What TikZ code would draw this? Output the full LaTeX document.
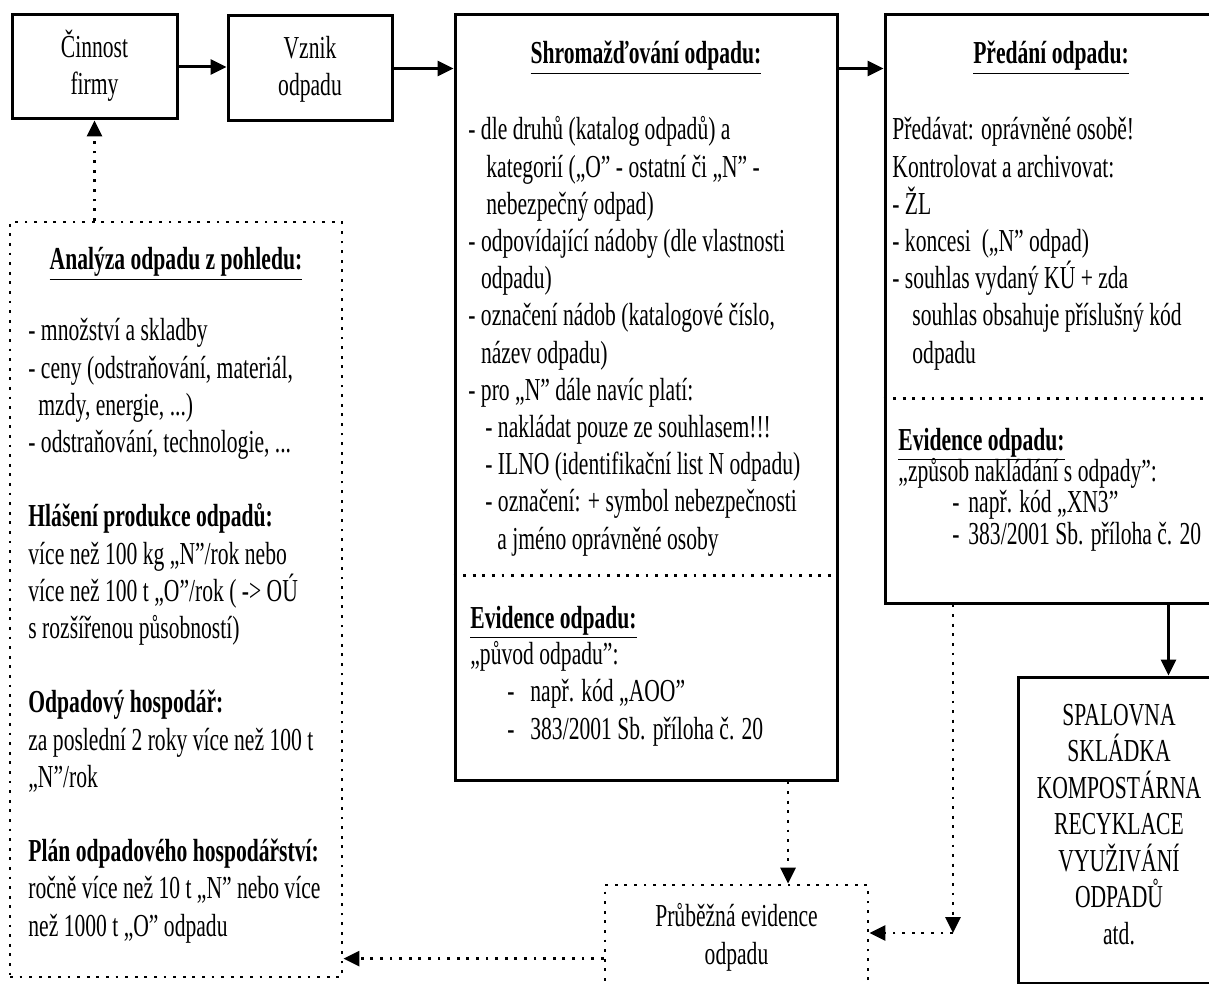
\documentclass[tikz,border=0pt]{standalone}
\usepackage{fontspec}
\setmainfont[FakeStretch=0.675]{Liberation Serif}
\usetikzlibrary{arrows.meta, positioning, fit, calc}

\begin{document}
\begin{tikzpicture}[
        x=0.5pt, y=-0.5pt,
        every node/.style={font=\fontsize{16pt}{18.6pt}\selectfont},
        krabice/.style={rectangle, draw=black, line width=1.5pt, inner sep=0pt},
        tecky/.style={line width=1.4pt, dash pattern=on 1.4pt off 3.4pt},
        teckovana/.style={rectangle, draw=black, tecky, inner sep=0pt},
        popis/.style={inner sep=0pt, align=left, anchor=base west},
        stred/.style={inner sep=0pt, align=center, anchor=base},
        nadpis/.style={inner sep=0pt, anchor=base, font=\fontsize{16pt}{18.6pt}\selectfont\bfseries},
        arr/.style={-{Triangle[length=8pt, width=7.5pt]}, line width=1.5pt},
        darr/.style={tecky, -{Triangle[length=8pt, width=7.5pt]}}
    ]
    \useasboundingbox (0,0) rectangle (1209,984);
    \clip (0,0) rectangle (1209,984);

% --- Horni rada (kotva textu = uclati radek) ---
    \node[krabice, fit={(12,15) (177,119)}] (cinnost) {};
    \node[stred] (cinnost_text) at (94.5,95) {Činnost\\firmy};
    \node[krabice, fit={(228,16) (392,121)}] (vznik) {};
    \node[stred] (vznik_text) at (310,96) {Vznik\\odpadu};
    \node[krabice, fit={(455,15) (837,780)}] (shrom) {};
    \node[krabice, fit={(885,15) (1218,603)}] (predani) {};

% --- Shromazdovani ---
    \node[nadpis] (shrom_nadpis) at (646,64) {\underline{Shromažďování odpadu:}};
    \node[popis] (shrom_text) at (468,549)
        {- dle druhů (katalog odpadů) a\\
        \hspace*{9pt}kategorií („O” - ostatní či „N” -\\
        \hspace*{9pt}nebezpečný odpad)\\
        - odpovídající nádoby (dle vlastnosti\\
        \hspace*{6.3pt}odpadu)\\
        - označení nádob (katalogové číslo,\\
        \hspace*{6.3pt}název odpadu)\\
        - pro „N” dále navíc platí:\\
        \hspace*{8.5pt}- nakládat pouze ze souhlasem!!!\\
        \hspace*{8.5pt}- ILNO (identifikační list N odpadu)\\
        \hspace*{8.5pt}- označení: + symbol nebezpečnosti\\
        \hspace*{14.5pt}a jméno oprávněné osoby};
    \draw[tecky] ($(shrom.north west)!0.732!(shrom.south west)$) -- ($(shrom.north east)!0.732!(shrom.south east)$);
    \node[popis, font=\fontsize{16pt}{18.6pt}\selectfont\bfseries] (shrom_evid) at (470,628) {\underline{Evidence odpadu:}};
    \node[popis] (shrom_evid_text) at (470,739)
        {„původ odpadu”:\\
        \makebox[30pt][l]{\hspace*{18.5pt}-}např. kód „AOO”\\
        \makebox[30pt][l]{\hspace*{18.5pt}-}383/2001 Sb. příloha č. 20};

% --- Predani ---
    \node[nadpis] (predani_nadpis) at (1051,64) {\underline{Předání odpadu:}};
    \node[popis] (predani_text) at (892,363)
        {Předávat: oprávněné osobě!\\
        Kontrolovat a archivovat:\\
        - ŽL\\
        - koncesi\ \ („N” odpad)\\
        - souhlas vydaný KÚ + zda\\
        \hspace*{10pt}souhlas obsahuje příslušný kód\\
        \hspace*{10pt}odpadu};
    \draw[tecky] ($(predani.north west)!0.651!(predani.south west)$) -- ($(predani.north east)!0.651!(predani.south east)$);
    \node[popis, font=\fontsize{16pt}{18.6pt}\selectfont\bfseries] (predani_evid) at (898,450) {\underline{Evidence odpadu:}};
    \node[popis, font=\fontsize{16pt}{14.5pt}\selectfont] (predani_evid_text) at (898,544)
        {„způsob nakládání s odpady”:\\
        \makebox[35pt][l]{\hspace*{27pt}-}např. kód „XN3"\\
        \makebox[35pt][l]{\hspace*{27pt}-}383/2001 Sb. příloha č. 20};

% --- Analyza ---
    \node[teckovana, fit={(10,222) (342,977)}] (analyza) {};
    \node[nadpis] (analyza_nadpis) at (176,270) {\underline{Analýza odpadu z pohledu:}};
    \node[popis] (analyza_text) at (28,936)
        {- množství a skladby\\
        - ceny (odstraňování, materiál,\\
        \hspace*{5pt}mzdy, energie, ...)\\
        - odstraňování, technologie, ...\\[18.6pt]
        \textbf{Hlášení produkce odpadů:}\\
        více než 100 kg „N”/rok nebo\\
        více než 100 t „O”/rok ( -> OÚ\\
        s rozšířenou působností)\\[18.6pt]
        \textbf{Odpadový hospodář:}\\
        za poslední 2 roky více než 100 t\\
        „N”/rok\\[18.6pt]
        \textbf{Plán odpadového hospodářství:}\\
        ročně více než 10 t „N” nebo více\\
        než 1000 t „O” odpadu};

% --- Spodni krabice ---
    \node[krabice, fit={(1018,677) (1220,983)}] (zarizeni) {};
    \node[stred, font=\fontsize{16pt}{18.25pt}\selectfont] (zarizeni_text) at (1119,944)
        {SPALOVNA\\SKLÁDKA\\KOMPOSTÁRNA\\RECYKLACE\\VYUŽIVÁNÍ\\ODPADŮ\\atd.};
    \node[teckovana, fit={(605,885) (868,986)}] (prubezna) {};
    \node[stred] (prubezna_text) at (736.5,964) {Průběžná evidence\\odpadu};

% --- Sipky ---
    \draw[arr] (cinnost.east) -- (cinnost.east -| vznik.west);
    \draw[arr] (vznik.east) -- (vznik.east -| shrom.west);
    \draw[arr] (vznik.east -| shrom.east) -- (vznik.east -| predani.west);
    \draw[arr] ([xshift=-25.5pt]predani.south east) -- ([xshift=-25.5pt]predani.south east |- zarizeni.north);

    \coordinate (vystup) at ($(shrom.south west)!0.869!(shrom.south east)$);
    \draw[darr] (vystup) -- (vystup |- prubezna.north);

    \coordinate (roh) at (953,933);
    \draw[darr] (roh |- predani.south) -- (roh);
    \draw[darr] (roh) -- (roh -| prubezna.east);

    \coordinate (zapis) at ($(prubezna.north west)!0.723!(prubezna.south west)$);
    \draw[darr] (zapis) -- (zapis -| analyza.east);
    \draw[darr] (cinnost.south |- analyza.north) -- (cinnost.south);
\end{tikzpicture}
\end{document}
